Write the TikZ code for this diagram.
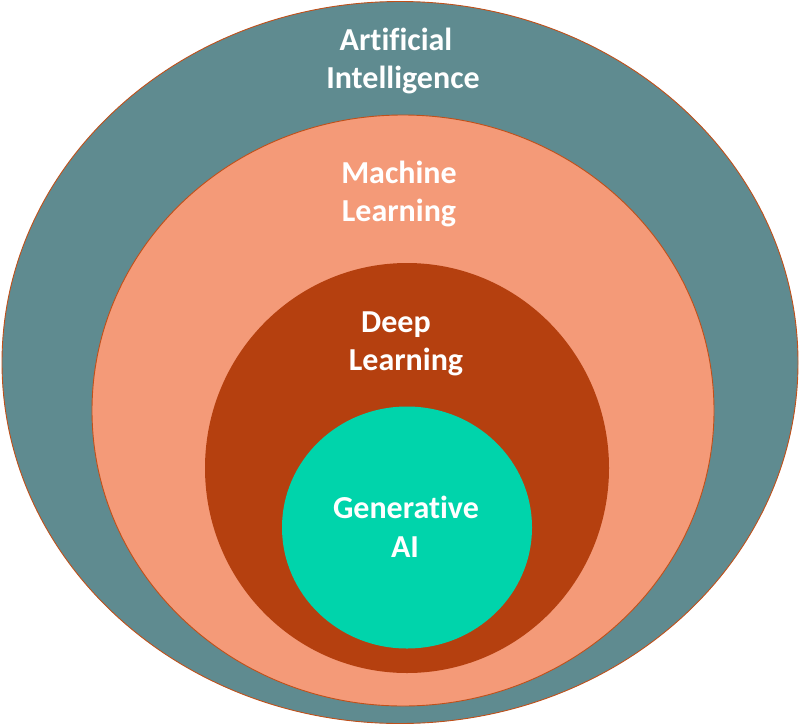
\documentclass[tikz,border=0pt]{standalone}
\usepackage{fontspec}
\setmainfont[RawFeature={-liga;-clig;-dlig}]{Carlito}
\definecolor{aicol}{HTML}{5F8B90}
\definecolor{mlcol}{HTML}{F49A78}
\definecolor{dlcol}{HTML}{B5400F}
\definecolor{gencol}{HTML}{00D4AB}
\definecolor{edgecol}{HTML}{C0501A}
\begin{document}
\begin{tikzpicture}[x=1pt,y=-1pt,
  ring/.style={draw=edgecol,line width=0.9pt},
  lbl/.style={text=white,font=\bfseries\fontsize{32}{38}\selectfont,anchor=base,inner sep=0pt}]
\useasboundingbox (0,0) rectangle (799,725);
\path[ring,fill=aicol] (400,362.5) ellipse [x radius=398,y radius=361];
\path[ring,fill=mlcol] (403,410.5) ellipse [x radius=311,y radius=295.5];
\path[ring,fill=dlcol,draw=none] (407,468) ellipse [x radius=202,y radius=205];
\path[fill=gencol] (407,527.5) ellipse [x radius=125,y radius=121];
\node[lbl] (ai1) at (396,50) {Artificial};
\node[lbl] (ai2) at (403,88) {Intelligence};
\node[lbl] (ml1) at (399,183) {Machine};
\node[lbl] (ml2) at (399,221) {Learning};
\node[lbl] (dl1) at (396,332) {Deep};
\node[lbl] (dl2) at (406,370) {Learning};
\node[lbl] (g1) at (406,518) {Generative};
\node[lbl] (g2) at (405,557) {AI};
\end{tikzpicture}
\end{document}
